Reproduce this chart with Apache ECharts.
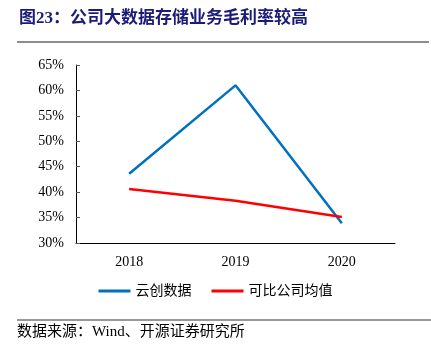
<!DOCTYPE html>
<html lang="zh">
<head>
<meta charset="UTF-8" />
<title>公司大数据存储业务毛利率较高</title>
<script src="https://cdn.jsdelivr.net/npm/echarts@6/dist/echarts.min.js"></script>
<style>
  * { margin: 0; padding: 0; }
  body { background: #fff; }
  #chart { width: 431px; height: 351px; }
</style>
</head>
<body>
<div id="chart"></div>
<script>
  // 数据
  var years = ['2018', '2019', '2020'];
  var yunChuang = [43.6, 61.0, 33.9];
  var peerAvg = [40.6, 38.3, 35.1];
  var seriesNames = ['云创数据', '可比公司均值'];

  var serif = '"Liberation Serif", "Noto Sans CJK SC", serif';

  var myChart = echarts.init(document.getElementById('chart'));
  var option = {
    animation: false,
    backgroundColor: '#fff',
    grid: { left: 76, right: 36, top: 65, bottom: 108 },
    graphic: [
      {
        type: 'text', left: 19, top: 10,
        style: { text: '图23：公司大数据存储业务毛利率较高', fill: '#1b1b78',
                 font: 'bold 17px ' + serif }
      },
      {
        type: 'line', shape: { x1: 17, y1: 42, x2: 429, y2: 42 },
        style: { stroke: '#8c8c8c', lineWidth: 2 }
      },
      {
        type: 'line', shape: { x1: 17, y1: 320, x2: 431, y2: 320 },
        style: { stroke: '#333', lineWidth: 1 }
      },
      {
        type: 'text', left: 17, top: 325,
        style: { text: '数据来源：Wind、开源证券研究所', fill: '#000',
                 font: '15px ' + serif }
      }
    ],
    legend: {
      bottom: 48, left: 'center',
      icon: 'rect',
      itemWidth: 32, itemHeight: 3, itemGap: 20,
      textStyle: { fontFamily: serif, fontSize: 14, color: '#000' },
      data: seriesNames
    },
    xAxis: {
      type: 'category',
      data: years,
      boundaryGap: true,
      axisLine: { lineStyle: { color: '#000' } },
      axisTick: { inside: true, length: 5, lineStyle: { color: '#555' } },
      axisLabel: { margin: 12, fontFamily: serif, fontSize: 14, color: '#000' }
    },
    yAxis: {
      type: 'value',
      min: 30, max: 65, interval: 5,
      splitLine: { show: false },
      axisLine: { show: true, lineStyle: { color: '#000' } },
      axisTick: { show: true, inside: true, length: 4, lineStyle: { color: '#555' } },
      axisLabel: { formatter: '{value}%', margin: 12, fontFamily: serif, fontSize: 14, color: '#000' }
    },
    series: [
      {
        name: seriesNames[0], type: 'line', data: yunChuang,
        symbol: 'none', lineStyle: { color: '#0070c0', width: 2.5 },
        itemStyle: { color: '#0070c0' }
      },
      {
        name: seriesNames[1], type: 'line', data: peerAvg,
        symbol: 'none', lineStyle: { color: '#ff0000', width: 2.5 },
        itemStyle: { color: '#ff0000' }
      }
    ]
  };
  myChart.setOption(option);
</script>
</body>
</html>
